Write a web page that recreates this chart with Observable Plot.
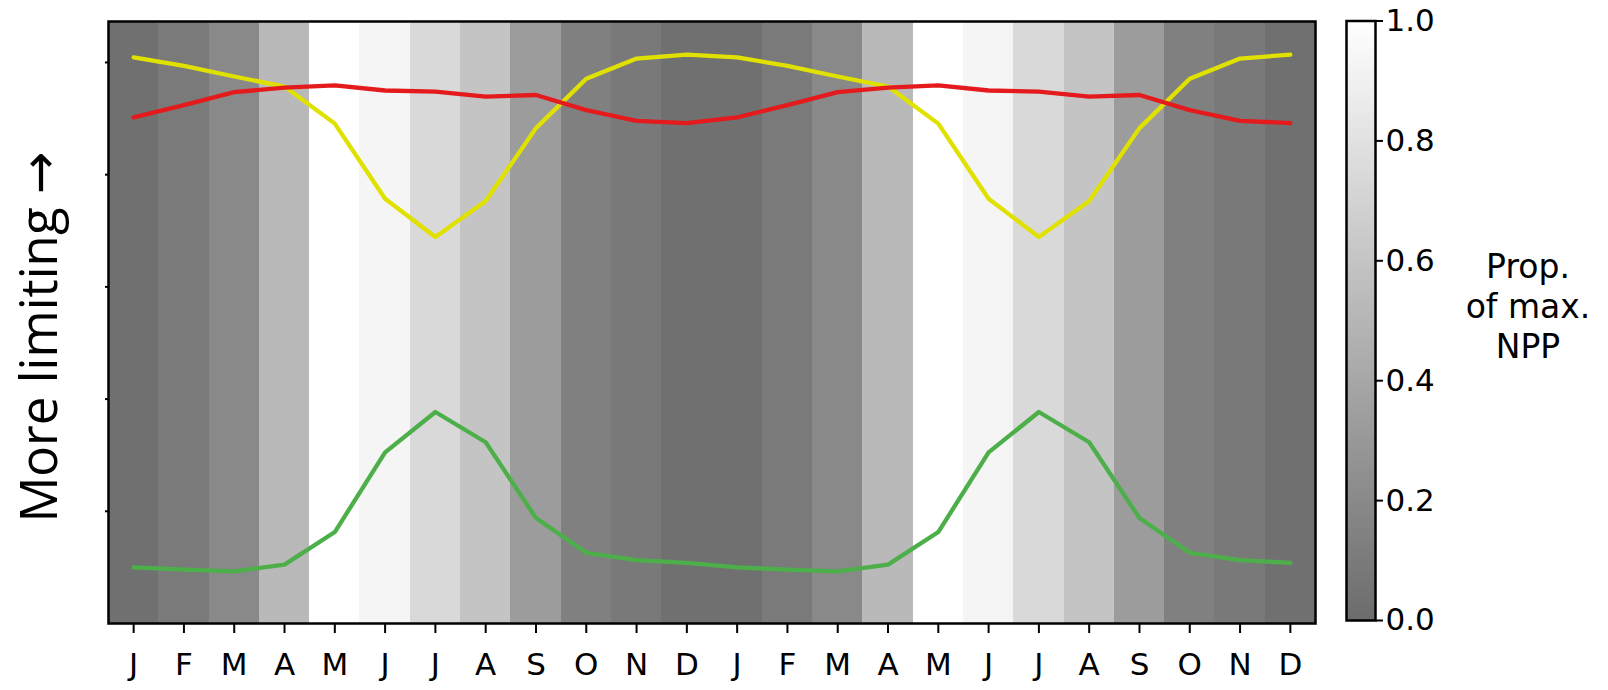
<!DOCTYPE html>
<html>
<head>
<meta charset="utf-8">
<script src="https://cdn.jsdelivr.net/npm/d3@7"></script>
<script src="https://cdn.jsdelivr.net/npm/@observablehq/plot@0.6"></script>
<style>
  html, body { margin: 0; padding: 0; background: #ffffff; }
  #wrap { position: relative; width: 1608px; height: 690px; overflow: hidden; background: #ffffff; }
  #main, #cbar { position: absolute; top: 0; }
  #main { left: 0; }
  #cbar { left: 1346px; }
  #ylabel {
    position: absolute; left: 37px; top: 337px;
    transform: translate(-50%, -50%) rotate(-90deg);
    font-family: "Open Sans", "DejaVu Sans", sans-serif; font-size: 51px; line-height: 1;
    white-space: nowrap; color: #000;
  }
  #cbtitle {
    position: absolute; left: 1408px; top: 247px; width: 240px; text-align: center;
    font-family: "DejaVu Sans", sans-serif; font-size: 33px; line-height: 40px; color: #000;
  }
</style>
</head>
<body>
<div id="wrap">
  <div id="main"></div>
  <div id="cbar"></div>
  <div id="ylabel">More limiting →</div>
  <div id="cbtitle">Prop.<br>of max.<br>NPP</div>
</div>
<script>
// ---- data ----
const monthLabels = ["J","F","M","A","M","J","J","A","S","O","N","D",
                     "J","F","M","A","M","J","J","A","S","O","N","D"];
// proportion of maximum NPP per month (background cells)
const nppValues = [0.027, 0.095, 0.197, 0.524, 1.0, 0.932, 0.741, 0.599, 0.327, 0.136, 0.088, 0.027,
                   0.027, 0.095, 0.197, 0.524, 1.0, 0.932, 0.741, 0.599, 0.327, 0.136, 0.088, 0.027];
// limitation lines (unitless, higher = more limiting)
const yellowSeries = [1.009, 0.994, 0.975, 0.957, 0.891, 0.757, 0.689, 0.753, 0.883, 0.971, 1.007, 1.014,
                      1.009, 0.994, 0.975, 0.957, 0.891, 0.757, 0.689, 0.753, 0.883, 0.971, 1.007, 1.014];
const redSeries    = [0.902, 0.924, 0.947, 0.955, 0.959, 0.950, 0.948, 0.939, 0.942, 0.915, 0.896, 0.892,
                      0.902, 0.924, 0.947, 0.955, 0.959, 0.950, 0.948, 0.939, 0.942, 0.915, 0.896, 0.892];
const greenSeries  = [0.100, 0.096, 0.093, 0.105, 0.163, 0.305, 0.377, 0.323, 0.188, 0.126, 0.113, 0.108,
                      0.100, 0.096, 0.093, 0.105, 0.163, 0.305, 0.377, 0.323, 0.188, 0.126, 0.113, 0.108];
const yTicks = [0.2, 0.4, 0.6, 0.8, 1.0];
const cbTicks = [0, 0.2, 0.4, 0.6, 0.8, 1.0];

// ---- derived tables ----
const idx = monthLabels.map((_, i) => i);
const cells = idx.map(i => ({i, x1: i - 0.5, x2: i + 0.5, v: nppValues[i]}));
const toRows = arr => arr.map((v, i) => ({i, v}));

const colorScale = {type: "linear", domain: [0, 1], range: ["#6c6c6c", "#ffffff"], interpolate: "rgb"};
const tickFont = {fontFamily: "DejaVu Sans, sans-serif", fontSize: 31, color: "#000", background: "transparent", overflow: "visible"};

const main = Plot.plot({
  width: 1608, height: 690,
  marginLeft: 108, marginRight: 293, marginTop: 21, marginBottom: 67,
  style: tickFont,
  x: {type: "linear", domain: [-0.5, 23.5]},
  y: {domain: [0, 1.073]},
  color: colorScale,
  marks: [
    Plot.rect(cells, {x1: "x1", x2: "x2", fill: "v", shapeRendering: "crispEdges"}),
    Plot.line(toRows(yellowSeries), {x: "i", y: "v", stroke: "#e1e100", strokeWidth: 4.3, strokeLinejoin: "round"}),
    Plot.line(toRows(greenSeries), {x: "i", y: "v", stroke: "#4daf4a", strokeWidth: 4.3, strokeLinejoin: "round"}),
    Plot.line(toRows(redSeries), {x: "i", y: "v", stroke: "#e41a1c", strokeWidth: 4.3, strokeLinejoin: "round"}),
    Plot.frame({stroke: "#000", strokeWidth: 2.5}),
    Plot.axisX({ticks: idx, tickFormat: i => monthLabels[i], tickSize: 10, tickPadding: 19, strokeWidth: 2, label: null}),
    Plot.axisY({ticks: yTicks, tickFormat: () => "", tickSize: 3, strokeWidth: 2, label: null})
  ]
});
document.getElementById("main").appendChild(main);

// ---- colorbar ----
const nSteps = 240;
const gradient = d3.range(nSteps).map(k => ({lo: k / nSteps, hi: (k + 1) / nSteps, v: (k + 0.5) / nSteps}));
const cbar = Plot.plot({
  width: 262, height: 690,
  marginLeft: 0, marginRight: 233, marginTop: 20.5, marginBottom: 70,
  style: tickFont,
  y: {domain: [0, 1]},
  color: colorScale,
  marks: [
    Plot.rect(gradient, {y1: "lo", y2: "hi", fill: "v", shapeRendering: "crispEdges"}),
    Plot.frame({stroke: "#000", strokeWidth: 2.5}),
    Plot.axisY({anchor: "right", ticks: cbTicks, tickFormat: d3.format(".1f"), tickSize: 7, tickPadding: 3, strokeWidth: 2, label: null})
  ]
});
document.getElementById("cbar").appendChild(cbar);
</script>
</body>
</html>
